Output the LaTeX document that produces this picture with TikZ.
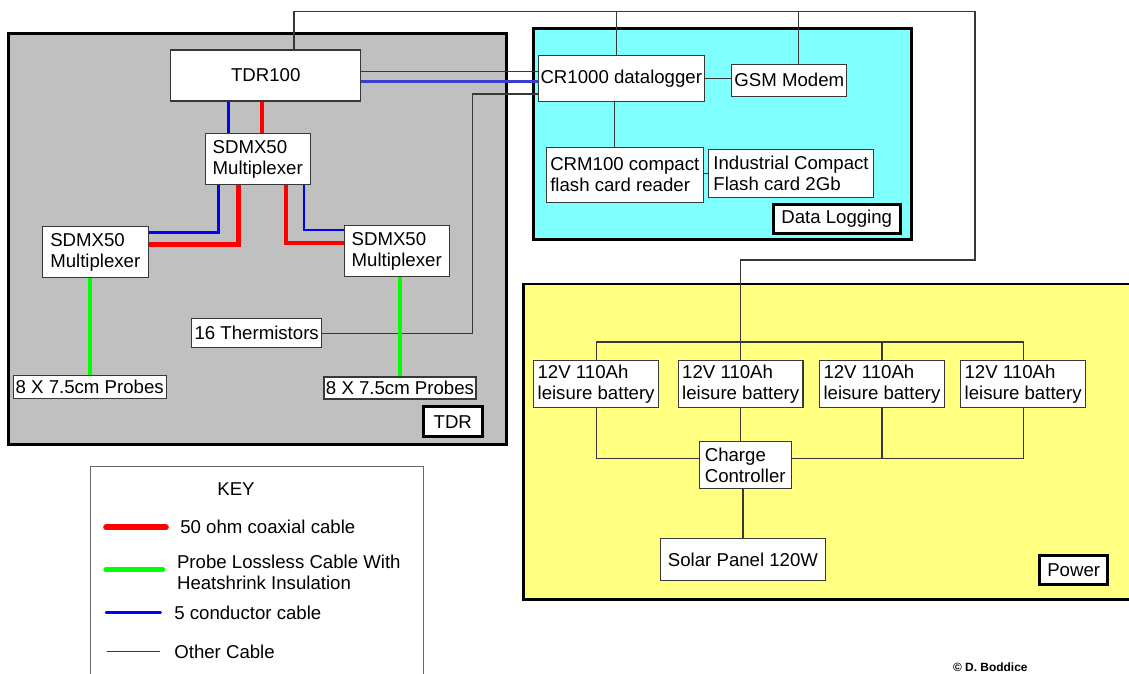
\documentclass[tikz,border=0pt]{standalone}
\usepackage{fontspec}
\setmainfont{Liberation Sans}
\newlength\px
\setlength\px{0.02cm}
\definecolor{tdrgray}{HTML}{C0C0C0}
\definecolor{logcyan}{HTML}{80FFFF}
\definecolor{pwryellow}{HTML}{FFFF80}
\definecolor{wiregray}{HTML}{383838}
\definecolor{linkblue}{HTML}{3C3CD0}
\tikzset{
  unit/.style={draw=wiregray,fill=white,line width=0.6pt,inner sep=1pt,align=left,
    font=\fontsize{10.6}{12}\selectfont},
  tag/.style={draw=black,fill=white,line width=1.7pt,inner sep=2pt,
    font=\fontsize{10.6}{12}\selectfont},
  region/.style={draw=black,line width=1.7pt},
  wire/.style={draw=wiregray,line width=0.6pt},
  coax/.style={draw=red,line width=2.8pt},
  probecable/.style={draw=green,line width=2.4pt},
  fivecore/.style={draw=blue,line width=1.4pt},
  keytext/.style={align=left,inner sep=0pt,anchor=west,font=\fontsize{10.6}{12}\selectfont}
}
\begin{document}
\begin{tikzpicture}[x=0.02cm,y=-0.02cm]
\useasboundingbox (0,0) rectangle (1129,673);
\fill[white] (0,0) rectangle (1129,673);
\filldraw[region,fill=tdrgray] (8.5,33.5) rectangle (506.5,444.5);
\filldraw[region,fill=logcyan] (533.3,28.3) rectangle (911.7,239.3);
\filldraw[region,fill=pwryellow] (523.5,284) rectangle (1140,599.5);
\draw[draw=gray!80!black,line width=0.6pt] (90.7,690) |- (423.3,466.7) -- (423.3,690);

\node[unit,minimum width=190\px,minimum height=51\px] (tdr100) at (265.7,75.5) {TDR100};
\node[unit,minimum width=105\px,minimum height=50.6\px] (mux) at (257.7,159) {SDMX50\\Multiplexer};
\node[unit,minimum width=106\px,minimum height=51\px] (muxl) at (95.3,252.3) {SDMX50\\Multiplexer};
\node[unit,minimum width=105\px,minimum height=51\px] (muxr) at (396.7,251.2) {SDMX50\\Multiplexer};
\node[unit,minimum width=130\px,minimum height=28.7\px] (therm) at (256.7,333.3) {16 Thermistors};
\node[unit,minimum width=152.7\px,minimum height=23.3\px] (probel) at (89.7,386.7) {8 X 7.5cm Probes};
\node[unit,minimum width=152\px,minimum height=22\px] (prober) at (400,388) {8 X 7.5cm Probes};
\node[tag,minimum width=59\px,minimum height=29.7\px] (tdrtag) at (452.8,421.8) {TDR};

\node[unit,minimum width=166\px,minimum height=46.3\px] (cr1000) at (621.3,78.8) {CR1000 datalogger};
\node[unit,minimum width=114.7\px,minimum height=31.7\px] (gsm) at (789.3,80.2) {GSM Modem};
\node[unit,minimum width=157\px,minimum height=54.6\px] (crm) at (624.8,175) {CRM100 compact\\flash card reader};
\node[unit,minimum width=164.6\px,minimum height=47.7\px] (cf) at (791,173.2) {Industrial Compact\\Flash card 2Gb};
\node[tag,minimum width=126.7\px,minimum height=28.6\px] (logtag) at (836.7,219) {Data Logging};

\node[unit,minimum width=125\px,minimum height=47.3\px] (bat1) at (596.1,384.3) {12V 110Ah\\leisure battery};
\node[unit,minimum width=124.6\px,minimum height=47.3\px] (bat2) at (740.7,384.3) {12V 110Ah\\leisure battery};
\node[unit,minimum width=125\px,minimum height=47.3\px] (bat3) at (882,384.3) {12V 110Ah\\leisure battery};
\node[unit,minimum width=124.6\px,minimum height=47.3\px] (bat4) at (1023.1,384.3) {12V 110Ah\\leisure battery};
\node[unit,minimum width=91.7\px,minimum height=47\px] (cc) at (745.2,465.2) {Charge\\Controller};
\node[unit,minimum width=164.6\px,minimum height=42.4\px] (solar) at (743,559.5) {Solar Panel 120W};
\node[tag,minimum width=68\px,minimum height=29.3\px] (pwrtag) at (1073.7,570.3) {Power};

\coordinate (trtop) at ([xshift=28.3\px]tdr100.north);
\coordinate (crtop) at ([xshift=-5\px]cr1000.north);
\coordinate (gsmtop) at ([xshift=9.4\px]gsm.north);
\coordinate (crbot) at ([xshift=-7\px]cr1000.south);
\coordinate (tbend) at (472.3,94);
\draw[wire] (trtop) |- (975,11.7) |- (bat2.north |- 0,260) -- (bat2.north);
\draw[wire] (crtop) -- (crtop |- 0,11.7);
\draw[wire] (gsmtop) -- (gsmtop |- 0,11.7);
\draw[wire] ([yshift=3.8\px]tdr100.east) -- ([yshift=3.8\px]tdr100.east -| cr1000.west);
\draw[draw=linkblue,line width=1.6pt] ([yshift=-6.2\px]tdr100.east) -- ([yshift=-6.2\px]tdr100.east -| cr1000.west);
\draw[wire] (therm.east) -| (tbend) -- (tbend -| cr1000.west);
\draw[wire] (cr1000.east) -- (cr1000.east -| gsm.west);
\draw[wire] (crbot) -- (crbot |- crm.north);
\draw[wire] (cf.west -| crm.east) -- (cf.west);

\draw[fivecore] ([xshift=-37.4\px]tdr100.south) -- ([xshift=-37.4\px]tdr100.south |- mux.north);
\draw[coax] ([xshift=-3.7\px]tdr100.south) -- ([xshift=-3.7\px]tdr100.south |- mux.north);
\draw[fivecore] ([xshift=-39.4\px]mux.south) |- ([yshift=20\px]muxl.east);
\draw[coax] ([xshift=-19.4\px]mux.south) |- ([yshift=8\px]muxl.east);
\draw[coax] ([xshift=28.3\px]mux.south) |- ([yshift=8.2\px]muxr.east -| muxr.west);
\draw[fivecore] ([xshift=46.3\px]mux.south) |- ([yshift=21\px]muxr.west);
\draw[probecable] (probel.north |- muxl.south) -- (probel.north);
\draw[probecable] (prober.north |- muxr.south) -- (prober.north);

\coordinate (bus) at (741,342);
\coordinate (ccl) at ([yshift=7\px]cc.west);
\coordinate (ccr) at ([yshift=7\px]cc.east);
\draw[wire] (bat1.north) |- (bus) -| (bat4.north);
\draw[wire] (bat3.north) -- (bat3.north |- bus);
\draw[wire] (bat1.south) |- (ccl);
\draw[wire] (ccr) -| (bat4.south);
\draw[wire] (bat3.south) -- (bat3.south |- ccr);
\draw[wire] (bat2.south) -- (bat2.south |- cc.north);
\draw[wire] (cc.south -| solar.north) -- (solar.north);

\scope
\node[keytext] (keyhead) at (217,489) {KEY};
\draw[coax,line cap=round,line width=3.2pt] (106,527.3) -- (166,527.3);
\node[keytext] (keycoax) at (180,527.3) {50 ohm coaxial cable};
\draw[probecable,line cap=round,line width=3pt] (106,569.3) -- (162.7,569.3);
\node[keytext] (keyprobe) at (176.7,572) {Probe Lossless Cable With\\Heatshrink Insulation};
\draw[fivecore,line cap=round] (106,612.7) -- (160.7,612.7);
\node[keytext] (keyfive) at (174,612.7) {5 conductor cable};
\draw[wire] (107,651.7) -- (160,651.7);
\node[keytext] (keyother) at (174,651.7) {Other Cable};
\endscope

\node[anchor=base west,inner sep=0pt,font=\fontsize{6.8}{8}\selectfont\bfseries] (credit) at (952.7,671) {© D. Boddice};
\end{tikzpicture}
\end{document}
